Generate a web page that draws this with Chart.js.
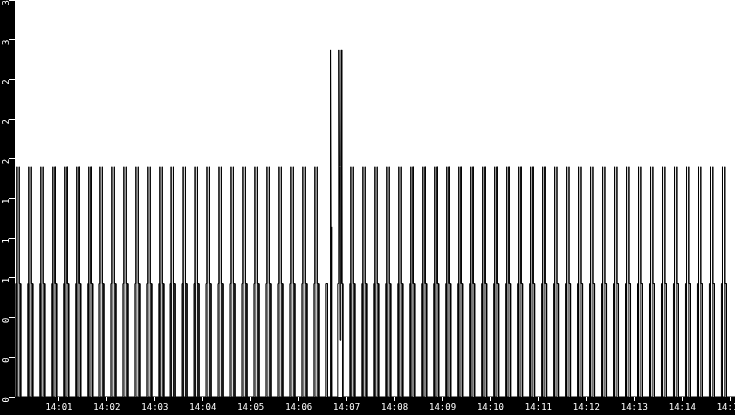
<!DOCTYPE html>
<html><head><meta charset="utf-8">
<script src="https://cdn.jsdelivr.net/npm/chart.js@4/dist/chart.umd.min.js"></script>
<style>html,body{margin:0;padding:0;background:#000;overflow:hidden}#wrap{width:735px;height:415px}</style>
</head><body><div id="wrap"><canvas id="c" width="735" height="415"></canvas></div>
<script>
// seconds after 14:00:00
const pulseStarts = [6,21,36,51,66,81,96,110,125,140,155,170,185,199,214,229,244,259,274,289,
  304,319,334,349,364,379,394,409,424,439,454,469,484,499,514,529,544,559,574,589,
  604,619,634,649,664,679,694,709,724,739,754,769,784,799,814,829,844,859,874,889];
const pulseKinds = ['n','n','n','n','n','n','n','n','n','n','n','n','n','n','n','n','n','n','n','n',
  'n','n','n','n','n','n','a','b','n','n','n','n','n','n','n','n','n','n','n','n',
  'n','n','n','n','n','n','n','n','n','n','n','n','n','n','n','n','n','n','n','n'];
// sample points of each pulse kind: offset (s) and value
const normalOffsets = [0,0,1.25,1.25,1.45,4.05,4.25,4.25,6.25,6.25];
const normalLevels  = [0,1,1,2.03,0,0,2.03,1,1,0];
const spikeAOffsets = [0,0,2,2,5.6,5.9,6.6,7.3];
const spikeALevels  = [0,1,1,0,0,3.06,1.5,0];
const spikeBOffsets = [0,0,1.25,1.25,2,2.8,3.6,4.25,4.45,5.2,5.2,6.25,6.25];
const spikeBLevels  = [0,1,1,3.06,2.03,0.5,2.03,3.06,1.5,1.5,1,1,0];
const xTickValues = [60,120,180,240,300,360,420,480,540,600,660,720,780,840,900];
const xTickLabels = ['14:01','14:02','14:03','14:04','14:05','14:06','14:07','14:08','14:09','14:10','14:11','14:12','14:13','14:14','14:15'];
const yTickValues = [0,0.35,0.7,1.05,1.4,1.75,2.1,2.45,2.8,3.15,3.5];
const yTickLabels = ['0','0','0','1','1','1','2','2','2','3','3'];
const xMin = 5, xMax = 906;

const shapes = {n:[normalOffsets,normalLevels], a:[spikeAOffsets,spikeALevels], b:[spikeBOffsets,spikeBLevels]};
const points = [{x:xMin,y:0}];
pulseStarts.forEach((t,i)=>{
  const [offs,lv] = shapes[pulseKinds[i]];
  offs.forEach((o,j)=>points.push({x:t+o,y:lv[j]}));
});
points.push({x:xMax,y:0});

const bg = {id:'bg', beforeDraw(chart){
  const {ctx, chartArea:a} = chart;
  ctx.save();
  ctx.fillStyle='#000'; ctx.fillRect(0,0,chart.width,chart.height);
  ctx.fillStyle='#fff'; ctx.fillRect(a.left,a.top,a.right-a.left,a.bottom-a.top);
  ctx.restore();
}};
const font = {family:'DejaVu Sans Mono', size:9};
new Chart(document.getElementById('c'), {
  type:'line',
  data:{datasets:[{data:points, borderColor:'#000', borderWidth:1, pointRadius:0, tension:0, fill:false}]},
  options:{
    responsive:false, animation:false, devicePixelRatio:1,
    layout:{padding:0},
    plugins:{legend:{display:false}, tooltip:{enabled:false}},
    scales:{
      x:{type:'linear', min:xMin, max:xMax,
        afterBuildTicks:s=>{s.ticks = xTickValues.map(v=>({value:v}));},
        afterFit:s=>{s.height=18; s.paddingLeft=0; s.paddingRight=0;},
        ticks:{color:'#fff', font, padding:1, maxRotation:0, minRotation:0, autoSkip:false, callback:(v,i)=>xTickLabels[i]},
        grid:{display:true, drawOnChartArea:false, drawTicks:true, tickLength:4, color:'#fff'},
        border:{display:false}},
      y:{min:0, max:3.5,
        afterBuildTicks:s=>{s.ticks = yTickValues.map(v=>({value:v}));},
        afterFit:s=>{s.width=15; s.paddingTop=0; s.paddingBottom=0;},
        ticks:{color:'#fff', font, padding:2, minRotation:90, maxRotation:90, autoSkip:false, callback:(v,i)=>yTickLabels[i]},
        grid:{display:true, drawOnChartArea:false, drawTicks:true, tickLength:6, color:'#fff'},
        border:{display:false}}
    }
  },
  plugins:[bg]
});
</script></body></html>
